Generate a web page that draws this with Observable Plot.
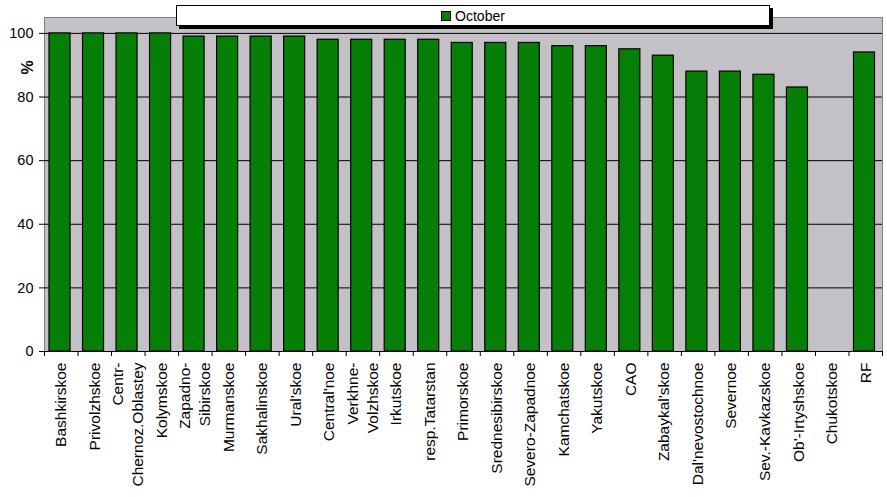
<!DOCTYPE html>
<html>
<head>
<meta charset="utf-8">
<script src="https://cdn.jsdelivr.net/npm/d3@7"></script>
<script src="https://cdn.jsdelivr.net/npm/@observablehq/plot@0.6"></script>
<style>
  html, body { margin: 0; padding: 0; background: white; }
  #wrap { position: relative; width: 887px; height: 497px; font-family: "Liberation Sans", Arial, sans-serif; }
  #legend {
    position: absolute; left: 176px; top: 5px; width: 592px; height: 19px;
    background: white; border: 1px solid black; box-shadow: 3px 3px 0 black;
    display: flex; align-items: center; justify-content: center; font-size: 14px; color: black;
  }
  #legend .sw { width: 8px; height: 8px; background: #067f06; border: 1px solid black; margin-right: 4px; }
</style>
</head>
<body>
<div id="wrap"></div>
<script>
const categories = ["Bashkirskoe","Privolzhskoe","Centr-Chernoz.Oblastey","Kolymskoe","Zapadno-Sibirskoe","Murmanskoe","Sakhalinskoe","Ural'skoe","Central'noe","Verkhne-Volzhskoe","Irkutskoe","resp.Tatarstan","Primorskoe","Srednesibirskoe","Severo-Zapadnoe","Kamchatskoe","Yakutskoe","CAO","Zabaykal'skoe","Dal'nevostochnoe","Severnoe","Sev.-Kavkazskoe","Ob'-Irtyshskoe","Chukotskoe","RF"];
const tickLabels = ["Bashkirskoe","Privolzhskoe","Centr-\nChernoz.Oblastey","Kolymskoe","Zapadno-\nSibirskoe","Murmanskoe","Sakhalinskoe","Ural'skoe","Central'noe","Verkhne-\nVolzhskoe","Irkutskoe","resp.Tatarstan","Primorskoe","Srednesibirskoe","Severo-Zapadnoe","Kamchatskoe","Yakutskoe","CAO","Zabaykal'skoe","Dal'nevostochnoe","Severnoe","Sev.-Kavkazskoe","Ob'-Irtyshskoe","Chukotskoe","RF"];
const october = [100,100,100,100,99,99,99,99,98,98,98,98,97,97,97,96,96,95,93,88,88,87,83,null,94];
const yTicks = [0,20,40,60,80,100];
const seriesName = "October";
const yLabel = "%";

const W = 887, H = 497, mL = 44, mR = 5, mT = 17, mB = 146;
const bw = (W - mL - mR) / categories.length;
const data = categories.map((c, i) => ({region: c, label: tickLabels[i], value: october[i]}));

const chart = Plot.plot({
  width: W, height: H,
  marginLeft: mL, marginRight: mR, marginTop: mT, marginBottom: mB,
  style: {fontFamily: "'Liberation Sans', Arial, sans-serif", background: "white", color: "black"},
  x: {domain: categories, padding: 0, round: false, axis: null},
  y: {domain: [0, 105], axis: null},
  marks: [
    Plot.frame({fill: "#c3c1c6", stroke: "#808080"}),
    Plot.ruleY(yTicks.filter(t => t > 0), {stroke: "black", strokeWidth: 1}),
    Plot.barY(data, {x: "region", y: "value", fill: "#067f06", stroke: "black", strokeWidth: 1.2, insetLeft: 5, insetRight: 7.5}),
    Plot.ruleY([0], {stroke: "black"}),
    Plot.axisY({ticks: yTicks, tickSize: 5, tickPadding: 6, fontSize: 14.5, line: true, label: null}),
    Plot.axisX({tickSize: 5, tickFormat: () => "", dx: -bw / 2, label: null}),
    Plot.axisX({ticks: [categories[categories.length - 1]], tickSize: 5, tickFormat: () => "", dx: bw / 2, label: null}),
    Plot.text(data, {x: "region", text: "label", frameAnchor: "bottom", dy: 11, dx: -1.5, rotate: -90, textAnchor: "end", lineAnchor: "middle", lineHeight: 1.27, fontSize: 15.5, fill: "black"}),
    Plot.text([yLabel], {text: d => d, frameAnchor: "top-left", dx: -23, dy: 57, rotate: -90, fontSize: 16, fontWeight: "bold", fill: "black"})
  ]
});

const wrap = document.getElementById("wrap");
wrap.appendChild(chart);
const legend = document.createElement("div");
legend.id = "legend";
legend.innerHTML = `<span class="sw"></span><span>${seriesName}</span>`;
wrap.appendChild(legend);
chart.style.position = "absolute";
chart.style.left = "0"; chart.style.top = "0";
</script>
</body>
</html>
